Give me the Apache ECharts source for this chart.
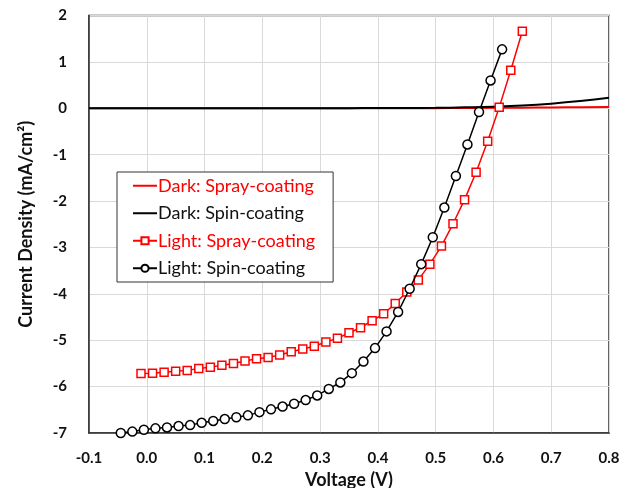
<!DOCTYPE html>
<html>
<head>
<meta charset="utf-8">
<script src="https://cdn.jsdelivr.net/npm/echarts@6/dist/echarts.min.js"></script>
<style>html,body{margin:0;padding:0;background:#fff}#c{width:634px;height:488px}</style>
</head>
<body>
<div id="c"></div>
<script>
// Tick values
const xTicks = [-0.1, 0.0, 0.1, 0.2, 0.3, 0.4, 0.5, 0.6, 0.7, 0.8];
const yTicks = [-7, -6, -5, -4, -3, -2, -1, 0, 1, 2];

// Dark curves
const darkV = [-0.1, -0.05, 0.0, 0.05, 0.1, 0.15, 0.2, 0.25, 0.3, 0.35, 0.4, 0.45, 0.5, 0.55, 0.6, 0.65, 0.7, 0.75, 0.8];
const darkSpray = [0, 0, 0, 0, 0, 0, 0, 0, 0, 0, 0, 0, 0.003, 0.006, 0.01, 0.014, 0.018, 0.022, 0.027];
const darkSpin = [0, 0, 0, 0, 0, 0, 0, 0, 0.002, 0.003, 0.004, 0.006, 0.01, 0.02, 0.035, 0.06, 0.1, 0.155, 0.225];

// Light: spray-coating
const spraySprayV = [-0.01, 0.01, 0.03, 0.05, 0.07, 0.09, 0.11, 0.13, 0.15, 0.17, 0.19, 0.21, 0.23, 0.25, 0.27, 0.29, 0.31, 0.33, 0.35, 0.37, 0.39, 0.41, 0.43, 0.45, 0.47, 0.49, 0.51, 0.53, 0.55, 0.57, 0.59, 0.61, 0.63, 0.65];
const lightSpray = [-5.72, -5.71, -5.69, -5.67, -5.65, -5.61, -5.58, -5.54, -5.50, -5.45, -5.40, -5.37, -5.32, -5.25, -5.19, -5.13, -5.04, -4.96, -4.84, -4.73, -4.58, -4.43, -4.21, -3.96, -3.70, -3.36, -2.97, -2.49, -1.97, -1.38, -0.71, 0.02, 0.82, 1.66];

// Light: spin-coating
const spinV = [-0.045, -0.025, -0.005, 0.015, 0.035, 0.055, 0.075, 0.095, 0.115, 0.135, 0.155, 0.175, 0.195, 0.215, 0.235, 0.255, 0.275, 0.295, 0.315, 0.335, 0.355, 0.375, 0.395, 0.415, 0.435, 0.455, 0.475, 0.495, 0.515, 0.535, 0.555, 0.575, 0.595, 0.615];
const lightSpin = [-7.00, -6.97, -6.93, -6.90, -6.88, -6.85, -6.83, -6.78, -6.74, -6.70, -6.66, -6.62, -6.55, -6.49, -6.43, -6.37, -6.29, -6.19, -6.05, -5.91, -5.71, -5.46, -5.17, -4.81, -4.39, -3.89, -3.36, -2.78, -2.14, -1.46, -0.78, -0.08, 0.60, 1.27];

const names = ['Dark: Spray-coating', 'Dark: Spin-coating', 'Light: Spray-coating', 'Light: Spin-coating'];
const RED = '#ff0000', BLK = '#000000';
const FONT = 'Lato, "Open Sans", sans-serif';

function pairs(xs, ys) { return xs.map((x, i) => [x, ys[i]]); }

const chart = echarts.init(document.getElementById('c'), null, { renderer: 'canvas' });
chart.setOption({
  animation: false,
  textStyle: { fontFamily: FONT },
  grid: { left: 89, right: 25, top: 15.5, bottom: 55, show: true, borderColor: '#333', borderWidth: 1.5,
    containLabel: false, outerBoundsMode: 'none' },
  legend: {
    orient: 'vertical', left: 117, top: 172,
    padding: [4, 18, 4, 15],
    itemGap: 8, itemWidth: 24, itemHeight: 9,
    borderColor: '#333', borderWidth: 1, backgroundColor: '#fff',
    textStyle: { fontFamily: FONT, fontSize: 18, lineHeight: 19.5, padding: [0, 0, 0, -4] },
    data: [
      { name: names[0], textStyle: { color: RED }, itemStyle: { opacity: 0 } },
      { name: names[1], textStyle: { color: '#111' }, itemStyle: { opacity: 0 } },
      { name: names[2], textStyle: { color: RED } },
      { name: names[3], textStyle: { color: '#111' } }
    ]
  },
  xAxis: {
    type: 'value', min: xTicks[0], max: xTicks[xTicks.length - 1], interval: 0.1,
    name: 'Voltage (V)', nameLocation: 'middle', nameGap: 36,
    nameTextStyle: { fontFamily: FONT, fontSize: 18, fontWeight: 'bold', color: '#111' },
    axisLine: { show: true, onZero: false, lineStyle: { color: '#333', width: 1.5 } },
    axisTick: { show: false },
    axisLabel: { fontFamily: FONT, fontSize: 15, fontWeight: 'bold', color: '#111', margin: 18,
      formatter: v => { const t = xTicks.find(k => Math.abs(k - v) < 1e-6); return t === undefined ? '' : t.toFixed(1); } },
    splitLine: { show: true, lineStyle: { color: '#d9d9d9', width: 1 } }
  },
  yAxis: {
    type: 'value', min: yTicks[0], max: yTicks[yTicks.length - 1], interval: 1,
    name: 'Current Density (mA/cm²)', nameLocation: 'middle', nameGap: 54,
    nameTextStyle: { fontFamily: FONT, fontSize: 18, fontWeight: 'bold', color: '#111' },
    axisLine: { show: true, onZero: false, lineStyle: { color: '#333', width: 1.5 } },
    axisTick: { show: false },
    axisLabel: { fontFamily: FONT, fontSize: 15, fontWeight: 'bold', color: '#111', margin: 22,
      formatter: v => String(v) },
    splitLine: { show: true, lineStyle: { color: '#d9d9d9', width: 1 } }
  },
  series: [
    { name: names[0], type: 'line', data: pairs(darkV, darkSpray), smooth: true, showSymbol: false, symbol: 'none',
      lineStyle: { color: RED, width: 2 }, itemStyle: { color: RED }, z: 2 },
    { name: names[1], type: 'line', data: pairs(darkV, darkSpin), smooth: true, showSymbol: false, symbol: 'none',
      lineStyle: { color: BLK, width: 2 }, itemStyle: { color: BLK }, z: 3 },
    { name: names[2], type: 'line', data: pairs(spraySprayV, lightSpray), symbol: 'rect', symbolSize: 8,
      lineStyle: { color: RED, width: 1.5 }, itemStyle: { color: '#fff', borderColor: RED, borderWidth: 1.5 }, z: 4 },
    { name: names[3], type: 'line', data: pairs(spinV, lightSpin), symbol: 'circle', symbolSize: 9,
      lineStyle: { color: BLK, width: 1.5 }, itemStyle: { color: '#fff', borderColor: BLK, borderWidth: 1.5 }, z: 5 }
  ]
});
</script>
</body>
</html>
